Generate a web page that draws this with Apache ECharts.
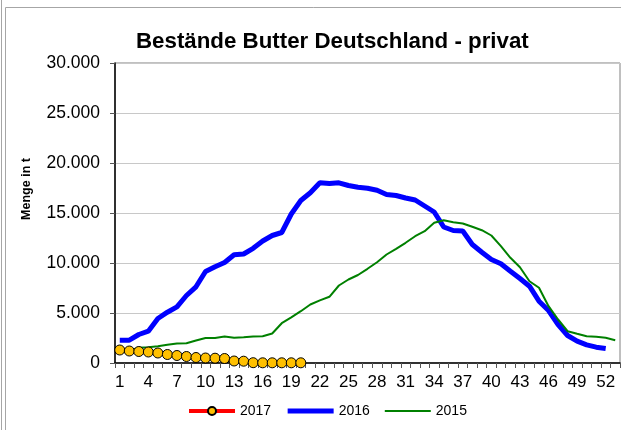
<!DOCTYPE html>
<html>
<head>
<meta charset="utf-8">
<script src="https://cdn.jsdelivr.net/npm/echarts@6/dist/echarts.min.js"></script>
<style>
  html, body { margin: 0; padding: 0; background: #fff; }
  #main { width: 621px; height: 430px; }
</style>
</head>
<body>
<div id="main"></div>
<script>
// Kalenderwochen 1..53
var weeks = [];
for (var w = 1; w <= 53; w++) weeks.push(String(w));

// Bestände in t
var data2017 = [1300, 1200, 1150, 1100, 1000, 850, 750, 650, 550, 500,
                480, 450, 200, 180, 30, 20, 20, 20, 20, 20];
var data2016 = [2280, 2280, 2850, 3180, 4450, 5080, 5620, 6750, 7620, 9150,
                9620, 10050, 10830, 10900, 11470, 12200, 12750, 13050, 14900, 16250,
                17020, 18020, 17950, 18020, 17750, 17580, 17480, 17280, 16850, 16750,
                16500, 16300, 15700, 15100, 13600, 13250, 13200, 11850, 11080, 10350,
                9920, 9180, 8450, 7680, 6180, 5250, 3850, 2750, 2180, 1820,
                1580, 1450];
var data2015 = [1020, 1250, 1520, 1580, 1680, 1820, 1950, 1980, 2250, 2500,
                2500, 2640, 2520, 2580, 2650, 2670, 2950, 3980, 4570, 5180,
                5850, 6260, 6620, 7750, 8350, 8800, 9420, 10080, 10850, 11420,
                12020, 12680, 13180, 14020, 14270, 14080, 13950, 13620, 13280, 12750,
                11680, 10520, 9580, 8180, 7520, 5680, 4350, 3180, 2920, 2680,
                2620, 2520, 2280];
var yTicks = [0, 5000, 10000, 15000, 20000, 25000, 30000];

var font = 'Arial, "Liberation Sans", sans-serif';

function tausend(v) {
  return String(v).replace(/\B(?=(\d{3})+(?!\d))/g, '.');
}

var myChart = echarts.init(document.getElementById('main'));

// Legendensymbol ohne Punkt fuer reine Linien
var ohnePunkt = { color: 'rgba(0,0,0,0)', borderColor: 'rgba(0,0,0,0)', borderWidth: 0, opacity: 0 };

var option = {
  animation: false,
  backgroundColor: '#fff',
  title: {
    text: 'Bestände Butter Deutschland - privat',
    left: 131,
    top: 26,
    textStyle: { fontFamily: font, fontSize: 22.3, fontWeight: 'bold', color: '#000' }
  },
  graphic: [
    {
      type: 'rect',
      shape: { x: 5.5, y: 7.5, width: 640, height: 440 },
      style: { fill: null, stroke: '#a6a6a6', lineWidth: 1 },
      silent: true
    },
    {
      type: 'line',
      shape: { x1: 1.5, y1: 0, x2: 1.5, y2: 430 },
      style: { stroke: '#a6a6a6', lineWidth: 1 },
      silent: true
    },
    {
      type: 'text',
      x: 27,
      y: 189,
      rotation: Math.PI / 2,
      style: {
        text: 'Menge in t',
        font: 'bold 12.5px ' + font,
        fill: '#000',
        align: 'center',
        verticalAlign: 'middle'
      },
      silent: true
    }
  ],
  legend: {
    left: 182,
    top: 399,
    itemWidth: 46,
    itemHeight: 10,
    itemGap: 14,
    textStyle: { fontFamily: font, fontSize: 14, color: '#000' },
    data: [
      { name: '2017', lineStyle: { color: '#ff0000', width: 4 } },
      { name: '2016', itemStyle: ohnePunkt, lineStyle: { color: '#0000ff', width: 5 } },
      { name: '2015', itemStyle: ohnePunkt, lineStyle: { color: '#008000', width: 2 } }
    ]
  },
  grid: {
    left: 115,
    top: 63,
    width: 505,
    height: 300,
    show: true,
    borderColor: '#808080',
    borderWidth: 1
  },
  xAxis: {
    type: 'category',
    data: weeks,
    boundaryGap: true,
    axisLine: { lineStyle: { color: '#000', width: 1.5 } },
    axisTick: { show: true, interval: 0, length: 5, lineStyle: { color: '#555' } },
    axisLabel: {
      interval: 2,
      margin: 11,
      fontFamily: font,
      fontSize: 17,
      color: '#000'
    },
    splitLine: { show: false }
  },
  yAxis: {
    type: 'value',
    min: yTicks[0],
    max: yTicks[yTicks.length - 1],
    interval: 5000,
    axisLine: { show: true, lineStyle: { color: '#000', width: 1.5 } },
    axisTick: { show: true, length: 5, lineStyle: { color: '#555' } },
    axisLabel: {
      margin: 15,
      fontFamily: font,
      fontSize: 17.5,
      color: '#000',
      formatter: function (v) { return tausend(v); }
    },
    splitLine: { lineStyle: { color: '#c8c8c8', width: 1 } }
  },
  series: [
    {
      name: '2017',
      type: 'line',
      data: data2017,
      z: 4,
      symbol: 'circle',
      symbolSize: 10,
      showAllSymbol: true,
      lineStyle: { color: '#ff0000', width: 3 },
      itemStyle: { color: '#ffc000', borderColor: '#000', borderWidth: 1 }
    },
    {
      name: '2016',
      type: 'line',
      data: data2016,
      z: 2,
      symbol: 'none',
      lineStyle: { color: '#0000ff', width: 5 },
      itemStyle: { color: '#0000ff' }
    },
    {
      name: '2015',
      type: 'line',
      data: data2015,
      z: 3,
      symbol: 'none',
      lineStyle: { color: '#008000', width: 2 },
      itemStyle: { color: '#008000' }
    }
  ]
};

myChart.setOption(option);
</script>
</body>
</html>
